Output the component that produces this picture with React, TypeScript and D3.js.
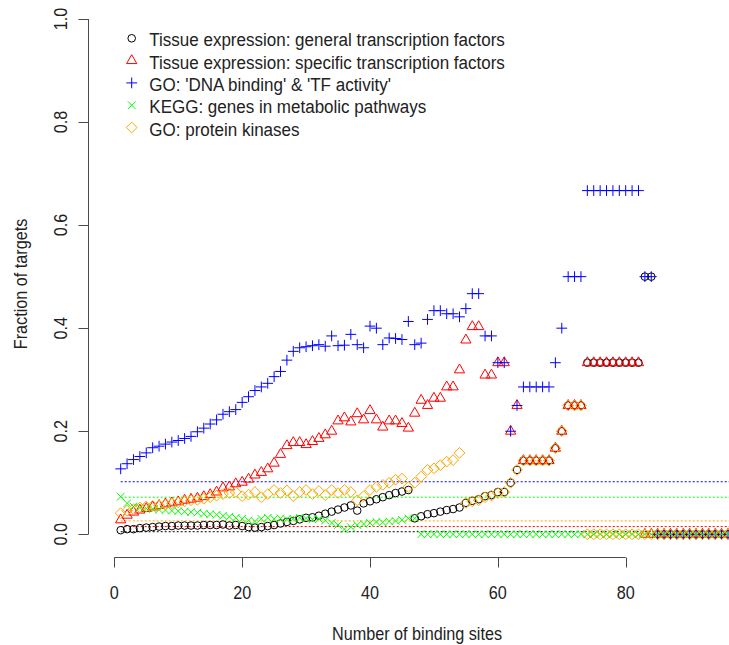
import React from "react";
import * as d3 from "d3";

const bindingSites = [1,2,3,4,5,6,7,8,9,10,11,12,13,14,15,16,17,18,19,20,21,22,23,24,25,26,27,28,29,30,31,32,33,34,35,36,37,38,39,40,41,42,43,44,45,46,47,48,49,50,51,52,53,54,55,56,57,58,59,60,61,62,63,64,65,66,67,68,69,70,71,72,73,74,75,76,77,78,79,80,81,82,83,84,85,86,87,88,89,90,91,92,93,94,95,96,97];

const generalTF = [0.008,0.010,0.010,0.012,0.013,0.014,0.015,0.016,0.016,0.017,0.017,0.017,0.017,0.018,0.018,0.018,0.019,0.017,0.018,0.016,0.014,0.013,0.014,0.016,0.018,0.021,0.024,0.026,0.029,0.032,0.033,0.036,0.040,0.044,0.048,0.052,0.056,0.046,0.060,0.064,0.068,0.072,0.076,0.080,0.083,0.086,0.031,0.035,0.039,0.041,0.044,0.047,0.049,0.052,0.061,0.065,0.068,0.074,0.076,0.082,0.082,0.100,0.125,0.143,0.143,0.143,0.143,0.143,0.167,0.200,0.250,0.250,0.250,0.333,0.333,0.333,0.333,0.333,0.333,0.333,0.333,0.333,0.500,0.500,0,0,0,0,0,0,0,0,0,0,0,0,0];

const specificTF = [0.028,0.037,0.043,0.047,0.050,0.053,0.056,0.059,0.061,0.063,0.066,0.068,0.070,0.073,0.077,0.082,0.090,0.092,0.098,0.101,0.107,0.115,0.120,0.127,0.138,0.155,0.172,0.178,0.178,0.174,0.180,0.186,0.193,0.200,0.220,0.226,0.218,0.234,0.222,0.240,0.222,0.208,0.220,0.220,0.215,0.206,0.235,0.260,0.250,0.264,0.264,0.286,0.286,0.319,0.377,0.403,0.403,0.309,0.309,0.333,0.333,0.200,0.250,0.143,0.143,0.143,0.143,0.143,0.167,0.200,0.250,0.250,0.250,0.333,0.333,0.333,0.333,0.333,0.333,0.333,0.333,0.333,0,0,0,0,0,0,0,0,0,0,0,0,0,0,0];

const goDNA = [0.127,0.137,0.145,0.151,0.158,0.168,0.171,0.175,0.179,0.182,0.186,0.190,0.199,0.206,0.214,0.222,0.233,0.238,0.242,0.256,0.267,0.279,0.286,0.293,0.306,0.316,0.338,0.355,0.362,0.364,0.366,0.368,0.365,0.385,0.366,0.367,0.388,0.368,0.362,0.404,0.400,0.368,0.381,0.380,0.378,0.413,0.368,0.371,0.417,0.434,0.434,0.428,0.428,0.422,0.438,0.467,0.467,0.385,0.385,0.333,0.333,0.200,0.250,0.286,0.286,0.286,0.286,0.286,0.333,0.400,0.500,0.500,0.500,0.667,0.667,0.667,0.667,0.667,0.667,0.667,0.667,0.667,0.500,0.500,0,0,0,0,0,0,0,0,0,0,0,0,0];

const keggMetabolic = [0.073,0.060,0.054,0.052,0.050,0.049,0.048,0.047,0.046,0.045,0.044,0.043,0.042,0.040,0.039,0.038,0.036,0.034,0.032,0.030,0.027,0.025,0.030,0.032,0.030,0.031,0.029,0.030,0.032,0.031,0.029,0.030,0.027,0.022,0.018,0.010,0.014,0.018,0.020,0.022,0.024,0.023,0.025,0.026,0.028,0.031,0.031,0,0,0,0,0,0,0,0,0,0,0,0,0,0,0,0,0,0,0,0,0,0,0,0,0,0,0,0,0,0,0,0,0,0,0,0,0,0,0,0,0,0,0,0,0,0,0,0,0,0];

const goKinase = [0.041,0.046,0.049,0.052,0.054,0.055,0.056,0.058,0.060,0.062,0.064,0.066,0.067,0.069,0.072,0.075,0.078,0.080,0.082,0.074,0.077,0.082,0.072,0.078,0.086,0.080,0.085,0.074,0.082,0.086,0.078,0.084,0.076,0.086,0.080,0.086,0.082,0.066,0.074,0.086,0.092,0.096,0.100,0.106,0.108,0.092,0.100,0.112,0.125,0.128,0.134,0.141,0.144,0.158,0.061,0.064,0.066,0.072,0.075,0.080,0.082,0.100,0.125,0.143,0.143,0.143,0.143,0.143,0.167,0.200,0.250,0.250,0.250,0,0,0,0,0,0,0,0,0,0,0,0,0,0,0,0,0,0,0,0,0,0,0,0];

const baselineValues = [0.005, 0.015, 0.102, 0.072, 0.026];

const seriesNames = [
  "Tissue expression: general transcription factors",
  "Tissue expression: specific transcription factors",
  "GO: 'DNA binding' & 'TF activity'",
  "KEGG: genes in metabolic pathways",
  "GO: protein kinases",
];
const seriesColors = ["#000000", "#FF0000", "#0000FF", "#00FF00", "#FFA500"];
const seriesShapes = ["circle", "triangle", "plus", "cross", "diamond"];
const seriesValues = [generalTF, specificTF, goDNA, keggMetabolic, goKinase];

const xTicks = [0, 20, 40, 60, 80];
const yTicks = [0, 0.2, 0.4, 0.6, 0.8, 1.0];

const W = 729;
const H = 645;
const R = 3.8;

function markerPath(shape: string): string {
  const p = d3.path();
  if (shape === "triangle") {
    const rr = 1.555 * R, yc = 0.7776 * R, xc = 1.347 * R;
    p.moveTo(0, -rr); p.lineTo(xc, yc); p.lineTo(-xc, yc); p.closePath();
  } else if (shape === "plus") {
    const h = 1.414 * R;
    p.moveTo(-h, 0); p.lineTo(h, 0); p.moveTo(0, -h); p.lineTo(0, h);
  } else if (shape === "cross") {
    p.moveTo(-R, -R); p.lineTo(R, R); p.moveTo(-R, R); p.lineTo(R, -R);
  } else if (shape === "diamond") {
    const h = 1.414 * R;
    p.moveTo(0, -h); p.lineTo(h, 0); p.lineTo(0, h); p.lineTo(-h, 0); p.closePath();
  }
  return p.toString();
}

function Marker({ shape, color, x, y }: { shape: string; color: string; x: number; y: number }) {
  if (shape === "circle") {
    return <circle cx={x} cy={y} r={R} fill="none" stroke={color} strokeWidth={1} />;
  }
  return <path d={markerPath(shape)} transform={`translate(${x},${y})`} fill="none" stroke={color} strokeWidth={1} />;
}

export default function App() {
  const x = d3.scaleLinear().domain([0, 80]).range([114.3, 625.7]);
  const y = d3.scaleLinear().domain([0, 1]).range([534.3, 19]);
  const axisColor = "#4a4a4a";
  const textColor = "#222";
  const font = "'Liberation Sans', Arial, sans-serif";
  const xMin = d3.min(bindingSites) as number;
  const xMax = d3.max(bindingSites) as number;
  const axisY = 557.5;
  const axisX = 88.5;

  return (
    <svg width={W} height={H} style={{ position: "absolute", left: 0, top: 0, background: "#fff" }} fontFamily={font}>
      <defs>
        <clipPath id="plotClip">
          <rect x={axisX} y={0} width={W - axisX} height={axisY} />
        </clipPath>
      </defs>
      <rect x={0} y={0} width={W} height={H} fill="#fff" />
      {/* baselines */}
      <g clipPath="url(#plotClip)">
        {baselineValues.map((v, i) => (
          <line key={i} x1={x(xMin)} x2={x(xMax) + 10} y1={y(v)} y2={y(v)} stroke={seriesColors[i]} strokeWidth={1} strokeDasharray="2,2" />
        ))}
        {seriesValues.map((vals, si) => (
          <g key={si}>
            {vals.map((v, i) => (
              <Marker key={i} shape={seriesShapes[si]} color={seriesColors[si]} x={x(bindingSites[i])} y={y(v)} />
            ))}
          </g>
        ))}
      </g>
      {/* x axis */}
      <line x1={x(0)} x2={x(80)} y1={axisY} y2={axisY} stroke={axisColor} strokeWidth={1} />
      {xTicks.map((t) => (
        <g key={t}>
          <line x1={Math.round(x(t)) + 0.5} x2={Math.round(x(t)) + 0.5} y1={axisY} y2={axisY + 10} stroke={axisColor} strokeWidth={1} />
          <text transform={`translate(${x(t)},598.5) scale(0.9,1)`} textAnchor="middle" fontSize={18} fill={textColor}>{t}</text>
        </g>
      ))}
      <text transform={`translate(417,640) scale(0.9,1)`} textAnchor="middle" fontSize={18} fill={textColor}>Number of binding sites</text>
      {/* y axis */}
      <line x1={axisX} x2={axisX} y1={y(1)} y2={y(0)} stroke={axisColor} strokeWidth={1} />
      {yTicks.map((t) => (
        <g key={t}>
          <line x1={axisX - 10} x2={axisX} y1={Math.round(y(t)) + 0.5} y2={Math.round(y(t)) + 0.5} stroke={axisColor} strokeWidth={1} />
          <text transform={`translate(66.5,${y(t)}) rotate(-90) scale(0.9,1)`} textAnchor="middle" fontSize={18} fill={textColor}>{t.toFixed(1)}</text>
        </g>
      ))}
      <text transform={`translate(26.5,284) rotate(-90) scale(0.9,1)`} textAnchor="middle" fontSize={18} fill={textColor}>Fraction of targets</text>
      {/* legend */}
      {seriesNames.map((name, i) => {
        const ly = 38.3 + i * 22.3;
        return (
          <g key={i}>
            <Marker shape={seriesShapes[i]} color={seriesColors[i]} x={131.7} y={ly} />
            <text transform={`translate(149.3,${ly + 8}) scale(0.945,1)`} fontSize={18} fill={textColor}>{name}</text>
          </g>
        );
      })}
    </svg>
  );
}
